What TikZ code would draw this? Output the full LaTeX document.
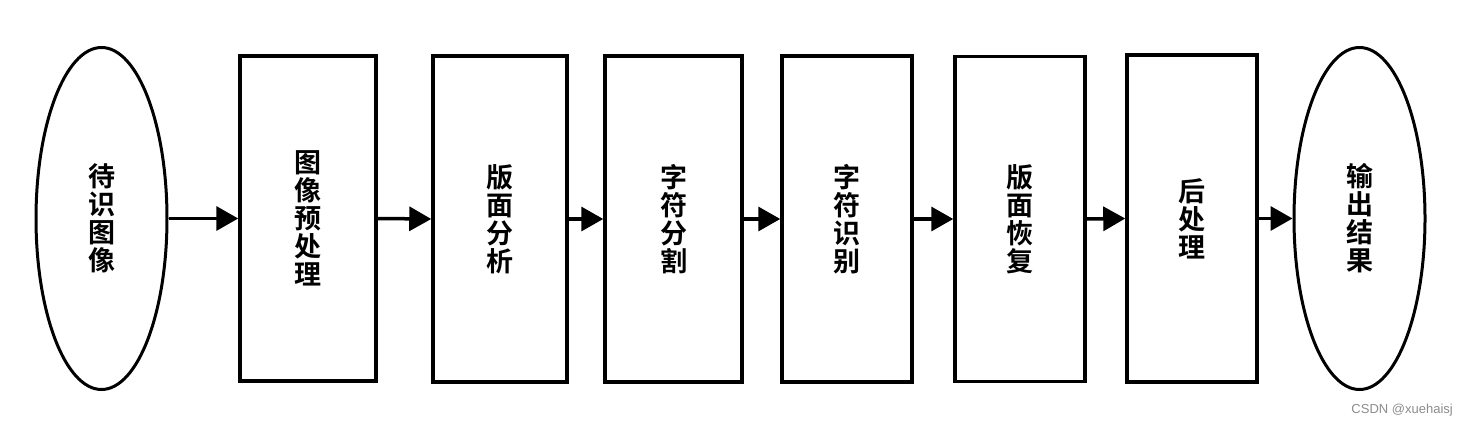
\documentclass[tikz,border=0pt]{standalone}
\usepackage{fontspec}
\newfontfamily\cjk{Noto Sans CJK SC}[BoldFont=* Bold]
\usetikzlibrary{shapes.geometric,arrows.meta}
\begin{document}
\begin{tikzpicture}[x=1pt,y=-1pt,
  stepbox/.style={draw,line width=3.5pt,rectangle,inner sep=0pt,
    font=\cjk\bfseries\fontsize{27}{28}\selectfont,align=center},
  endnode/.style={draw,line width=3pt,ellipse,inner sep=0pt,
    font=\cjk\bfseries\fontsize{27}{28}\selectfont,align=center},
  flow/.style={line width=3.5pt,-{Triangle[length=22pt,width=24pt]}}]
\useasboundingbox (0,0) rectangle (1469,427);
\node[endnode,minimum width=131pt,minimum height=342pt] (in) at (101.5,218.5) {待\\识\\图\\像};
\node[stepbox,minimum width=136pt,minimum height=325pt] (b1) at (308,218.5) {图\\像\\预\\处\\理};
\node[stepbox,minimum width=134pt,minimum height=326pt] (b2) at (500,219) {版\\面\\分\\析};
\node[stepbox,minimum width=137pt,minimum height=326pt] (b3) at (673.5,219) {字\\符\\分\\割};
\node[stepbox,minimum width=130pt,minimum height=326pt] (b4) at (847,219) {字\\符\\识\\别};
\node[stepbox,minimum width=130pt,minimum height=325pt] (b5) at (1020,219) {版\\面\\恢\\复};
\node[stepbox,minimum width=130pt,minimum height=327pt] (b6) at (1192,218.5) {后\\处\\理};
\node[endnode,minimum width=131pt,minimum height=342pt] (out) at (1359.5,218.5) {输\\出\\结\\果};
\draw[flow] (in.east) -- (b1.west);
\draw[flow] (b1.east) -- (b2.west);
\draw[flow] (b2.east) -- (b3.west);
\draw[flow] (b3.east) -- (b4.west);
\draw[flow] (b4.east) -- (b5.west);
\draw[flow] (b5.east) -- (b6.west);
\draw[flow] (b6.east) -- (out.west);
\node[anchor=east,text=black!45,font=\fontspec{Liberation Sans}\fontsize{13}{15}\selectfont,inner sep=0pt] (wm) at (1453,410) {CSDN @xuehaisj};
\end{tikzpicture}
\end{document}
